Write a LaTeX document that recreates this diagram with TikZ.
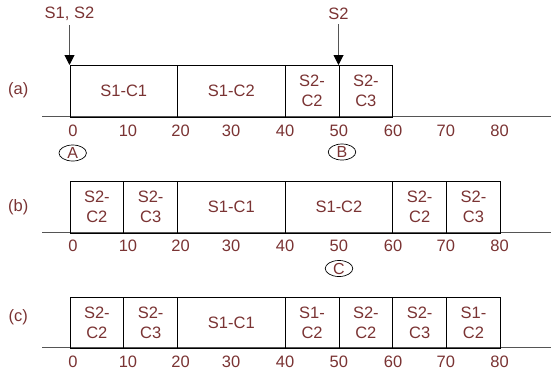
\documentclass[tikz,border=0pt]{standalone}
\usepackage{fontspec}
\setmainfont{Liberation Sans}
\usetikzlibrary{shapes.geometric,arrows.meta}
\definecolor{txt}{RGB}{122,51,51}
\definecolor{ln}{RGB}{85,85,85}
\begin{document}
\begin{tikzpicture}[x=1pt,y=-1pt,
  lab/.style={text=txt,font=\fontsize{16.5}{20}\selectfont,inner sep=2pt},
  cell/.style={draw=black,line width=0.9pt,anchor=north west,minimum height=51.7pt,inner sep=0pt,align=center,text=txt,font=\fontsize{16.5}{20}\selectfont},
  wide/.style={minimum width=107.6pt},
  narrow/.style={minimum width=53.8pt},
  axisline/.style={draw=ln,line width=1pt},
  circ/.style={ellipse,draw=black,line width=0.7pt,minimum width=27.5pt,minimum height=16pt,inner sep=0pt,text=txt,font=\fontsize{16}{18}\selectfont},
  arr/.style={draw=ln,line width=1pt,shorten <=2pt,-{Triangle[width=10pt,length=10pt,color=black]}}]
\useasboundingbox (0,0) rectangle (551,373);

% axes
\foreach \r/\y in {a/116.7,b/232,c/347.7}{
  \coordinate (\r L) at (42,\y);
  \coordinate (\r R) at (551,\y);
  \draw[axisline] (\r L) -- (\r R);
  \foreach \v/\x in {0/73,10/128,20/180.5,30/231,40/285,50/338.8,60/393,70/445.8,80/499.5}{
    \node[lab] (t\r\v) at (\x,{\y+14}) {\v};
  }
}

% row (a)
\node[cell,wide]   (a1) at (69.5,65)  {S1-C1};
\node[cell,wide]   (a2) at (177.1,65) {S1-C2};
\node[cell,narrow] (a3) at (284.7,65) {S2-\\C2};
\node[cell,narrow] (a4) at (338.5,65) {S2-\\C3};

% row (b)
\node[cell,narrow] (b1) at (69.5,181)  {S2-\\C2};
\node[cell,narrow] (b2) at (123.3,181) {S2-\\C3};
\node[cell,wide]   (b3) at (177.1,181) {S1-C1};
\node[cell,wide]   (b4) at (284.7,181) {S1-C2};
\node[cell,narrow] (b5) at (392.3,181) {S2-\\C2};
\node[cell,narrow] (b6) at (446.1,181) {S2-\\C3};

% row (c)
\node[cell,narrow] (c1) at (69.5,296.7)  {S2-\\C2};
\node[cell,narrow] (c2) at (123.3,296.7) {S2-\\C3};
\node[cell,wide]   (c3) at (177.1,296.7) {S1-C1};
\node[cell,narrow] (c4) at (284.7,296.7) {S1-\\C2};
\node[cell,narrow] (c5) at (338.5,296.7) {S2-\\C2};
\node[cell,narrow] (c6) at (392.3,296.7) {S2-\\C3};
\node[cell,narrow] (c7) at (446.1,296.7) {S1-\\C2};

% row labels
\node[lab] (la) at (18.3,90)  {(a)};
\node[lab] (lb) at (18.3,207) {(b)};
\node[lab] (lc) at (18.3,317) {(c)};

% markers
\node[circ] (A) at (72.7,153)  {A};
\node[circ] (B) at (342,152)   {B};
\node[circ] (C) at (339,268.5) {C};

% arrivals
\node[lab] (s12) at (69.5,14)  {S1, S2};
\node[lab] (s2)  at (338.5,14) {S2};
\draw[arr] (s12) -- (a1.north west);
\draw[arr] (s2) -- (a4.north west);
\end{tikzpicture}
\end{document}
